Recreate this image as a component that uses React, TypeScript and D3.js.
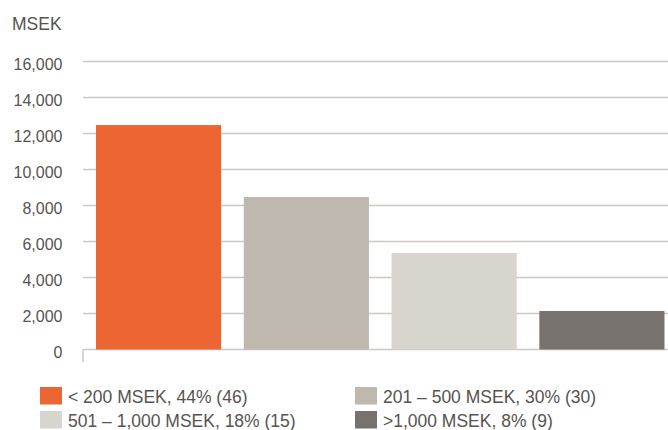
import React from "react";
import * as d3 from "d3";

const categories = ["< 200 MSEK", "201 – 500 MSEK", "501 – 1,000 MSEK", ">1,000 MSEK"];
const values = [12470, 8470, 5360, 2140];
const legendLabels = [
  "< 200 MSEK, 44% (46)",
  "201 – 500 MSEK, 30% (30)",
  "501 – 1,000 MSEK, 18% (15)",
  ">1,000 MSEK, 8% (9)",
];
const colors = ["#EB6633", "#BEB8AF", "#D8D4CE", "#78726E"];
const yTicks = [0, 2000, 4000, 6000, 8000, 10000, 12000, 14000, 16000];

const W = 668;
const H = 430;
const FONT = "'Liberation Sans', Arial, Helvetica, sans-serif";
const TEXT = "#57534f";
const GRID = "#CCC8C2";

export default function App() {
  const x = d3.scaleBand<string>().domain(categories).range([96, 664.5]).paddingInner(0.153).paddingOuter(0);
  const y = d3.scaleLinear().domain([0, 16000]).range([349.5, 61.5]);
  const fmt = d3.format(",");
  const legendPos = [
    { x: 40, y: 387 },
    { x: 355, y: 387 },
    { x: 40, y: 411 },
    { x: 355, y: 411 },
  ];
  return (
    <svg width={W} height={H} style={{ position: "absolute", left: 0, top: 0 }} fontFamily={FONT}>
      <text x={12} y={29.5} fontSize={17.5} fill={TEXT}>MSEK</text>
      {yTicks.map((t) => (
        <g key={t}>
          <line x1={83} x2={668} y1={y(t)} y2={y(t)} stroke={GRID} strokeWidth={1.5} />
          <text x={62.5} y={y(t) + 8.2} fontSize={16} fill={TEXT} textAnchor="end">{fmt(t)}</text>
        </g>
      ))}
      <line x1={83} x2={83} y1={y(0)} y2={362} stroke={GRID} strokeWidth={1.5} />
      {categories.map((c, i) => (
        <rect key={c} x={x(c)} y={y(values[i])} width={x.bandwidth()} height={y(0) - y(values[i])} fill={colors[i]} />
      ))}
      {legendLabels.map((l, i) => (
        <g key={l}>
          <rect x={legendPos[i].x} y={legendPos[i].y} width={22} height={17.5} fill={colors[i]} />
          <text x={legendPos[i].x + 28} y={legendPos[i].y + 15.5} fontSize={17.5} fill={TEXT}>{l}</text>
        </g>
      ))}
    </svg>
  );
}
